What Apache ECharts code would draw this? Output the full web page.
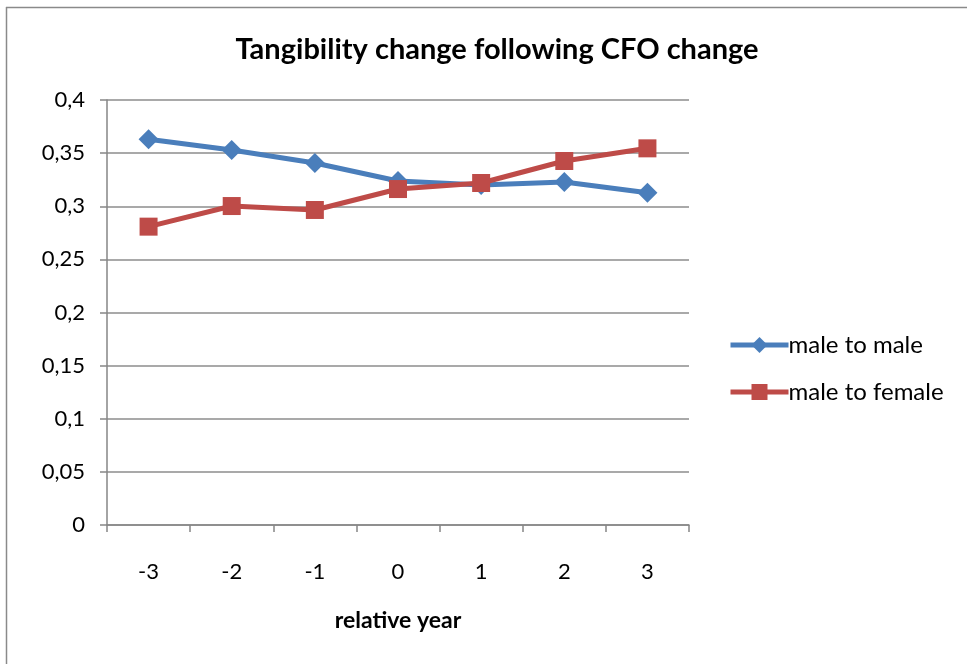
<!DOCTYPE html>
<html><head><meta charset="utf-8">
<script src="https://cdn.jsdelivr.net/npm/echarts@6/dist/echarts.min.js"></script>
<style>html,body{margin:0;padding:0;background:#fff}#c{width:967px;height:664px}</style>
</head><body><div id="c"></div>
<script>
const categories = ['-3','-2','-1','0','1','2','3'];
const maleToMale = [0.363, 0.353, 0.3407, 0.3238, 0.320, 0.3228, 0.3128];
const maleToFemale = [0.2808, 0.3002, 0.2965, 0.3162, 0.3219, 0.3426, 0.3545];
const seriesNames = ['male to male', 'male to female'];
const titleText = 'Tangibility change following CFO change';
const xAxisName = 'relative year';

const font = 'Lato, "Liberation Sans", Arial, sans-serif';
const chart = echarts.init(document.getElementById('c'));
chart.setOption({
  animation: false,
  backgroundColor: '#fff',
  title: { text: titleText, left: 492, textAlign: 'center', top: 30,
    textStyle: { fontFamily: font, fontWeight: 'bold', fontSize: 29, color: '#000' } },
  graphic: [
    { type: 'line', shape: { x1: 6.5, y1: 7, x2: 6.5, y2: 664 }, style: { stroke: '#8a8a8a', lineWidth: 1.5 } },
    { type: 'line', shape: { x1: 6, y1: 7.5, x2: 967, y2: 7.5 }, style: { stroke: '#8a8a8a', lineWidth: 1.5 } }
  ],
  grid: { left: 107, right: 278, top: 100, bottom: 139, containLabel: false },
  legend: {
    orient: 'vertical', left: 728, top: 333, itemGap: 23, padding: 0,
    itemWidth: 58, itemHeight: 20,
    lineStyle: { width: 5 },
    textStyle: { fontFamily: font, fontSize: 24, color: '#000', padding: [0,0,0,-5] },
    data: seriesNames
  },
  xAxis: {
    type: 'category', data: categories, boundaryGap: true,
    name: xAxisName, nameLocation: 'middle', nameGap: 84,
    nameTextStyle: { fontFamily: font, fontWeight: 'bold', fontSize: 23, color: '#000' },
    axisLine: { lineStyle: { color: '#868686', width: 1.5 } },
    axisTick: { show: true, inside: false, length: 7, lineStyle: { color: '#868686', width: 1.5 } },
    axisLabel: { fontFamily: font, fontSize: 22, color: '#000', margin: 36 }
  },
  yAxis: {
    type: 'value', min: 0, max: 0.4, interval: 0.05,
    axisLine: { show: true, lineStyle: { color: '#868686', width: 1.5 } },
    axisTick: { show: true, length: 7, lineStyle: { color: '#868686', width: 1.5 } },
    splitLine: { lineStyle: { color: '#8c8c8c', width: 1.5 } },
    axisLabel: { fontFamily: font, fontSize: 22, color: '#000', margin: 22,
      formatter: v => String(+v.toFixed(2)).replace('.', ',') }
  },
  series: [
    { name: seriesNames[0], type: 'line', data: maleToMale,
      symbol: 'diamond', symbolSize: 20, showAllSymbol: true,
      lineStyle: { color: '#4a7ebb', width: 5 }, itemStyle: { color: '#4a7ebb' }, z: 2 },
    { name: seriesNames[1], type: 'line', data: maleToFemale,
      symbol: 'rect', symbolSize: 18, showAllSymbol: true,
      lineStyle: { color: '#be4b48', width: 5 }, itemStyle: { color: '#be4b48' }, z: 3 }
  ]
});
</script></body></html>
